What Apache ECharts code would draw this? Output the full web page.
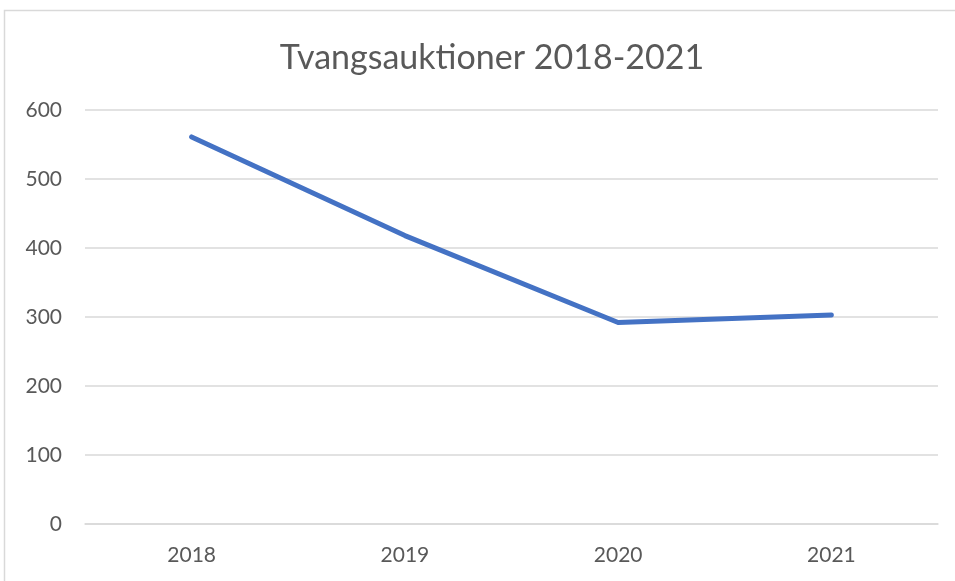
<!DOCTYPE html>
<html lang="da">
<head>
<meta charset="UTF-8">
<title>Tvangsauktioner 2018-2021</title>
<script src="https://cdn.jsdelivr.net/npm/echarts@6/dist/echarts.min.js"></script>
<style>
  html, body { margin: 0; padding: 0; background: #fff; }
  #chart { width: 955px; height: 581px; }
</style>
</head>
<body>
<div id="chart"></div>
<script>
// data
var years = ['2018', '2019', '2020', '2021'];
var auktioner = [561, 418, 292, 303];
var yTicks = [0, 100, 200, 300, 400, 500, 600];

var myChart = echarts.init(document.getElementById('chart'));
var option = {
  backgroundColor: '#fff',
  textStyle: { fontFamily: 'Lato, "Open Sans", sans-serif' },
  title: {
    text: 'Tvangsauktioner 2018-2021',
    left: 487,
    textAlign: 'center',
    top: 36,
    textStyle: { color: '#595959', fontSize: 34, fontWeight: 'normal', fontFamily: 'Lato, "Open Sans", sans-serif' }
  },
  // outer chart border
  graphic: [{
    type: 'rect',
    shape: { x: 4.5, y: 10.5, width: 960, height: 600 },
    style: { fill: 'none', stroke: '#d9d9d9', lineWidth: 1.5 },
    silent: true
  }],
  grid: { left: 85, right: 17, top: 110, bottom: 57 },
  xAxis: {
    type: 'category',
    data: years,
    boundaryGap: true,
    axisLine: { lineStyle: { color: '#d9d9d9', width: 1.5 } },
    axisTick: { show: false },
    axisLabel: { color: '#595959', fontSize: 21, margin: 21 }
  },
  yAxis: {
    type: 'value',
    min: yTicks[0],
    max: yTicks[yTicks.length - 1],
    interval: 100,
    axisLine: { show: false },
    axisTick: { show: false },
    axisLabel: { color: '#595959', fontSize: 21, margin: 23 },
    splitLine: { lineStyle: { color: '#d9d9d9', width: 1.5 } }
  },
  series: [{
    type: 'line',
    data: auktioner,
    symbol: 'none',
    lineStyle: { color: '#4472C4', width: 5, cap: 'round', join: 'round' },
    itemStyle: { color: '#4472C4' }
  }]
};
myChart.setOption(option);
</script>
</body>
</html>
